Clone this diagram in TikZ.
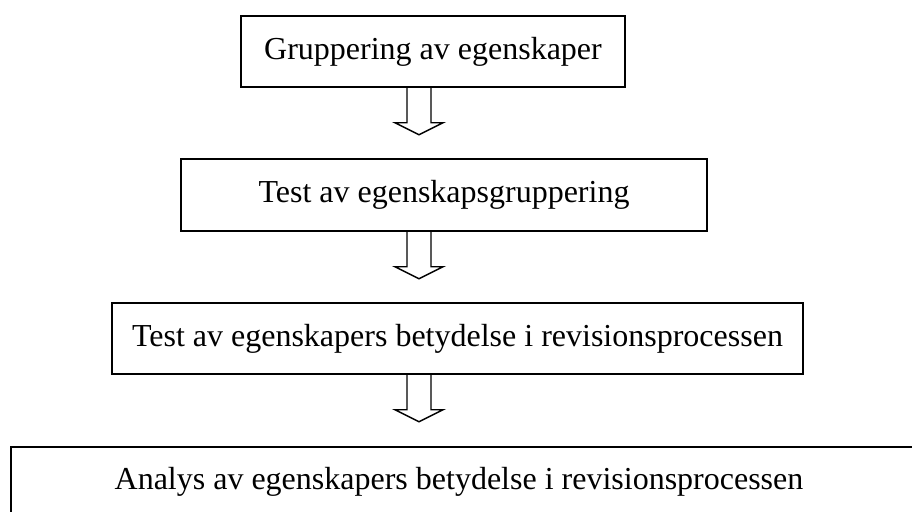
\documentclass[tikz,border=0pt]{standalone}
\usepackage{fontspec}
\setmainfont{Liberation Serif}
\begin{document}
\begin{tikzpicture}[x=0.75pt,y=-0.75pt,
  box/.style={draw, line width=1.1pt, inner sep=0pt, font=\fontsize{24}{28}\selectfont},
  lbl/.style={inner sep=0pt, font=\fontsize{24}{28}\selectfont},
  blockarrow/.pic={\draw[line width=1.1pt, line join=miter]
     (-12,0) -- (-12,35) -- (-24,35) -- (0,47) -- (24,35) -- (12,35) -- (12,0);}
]
\useasboundingbox (0,0) rectangle (912,511);
\clip (0,0) rectangle (912,511);
\node[box, minimum width=288pt, minimum height=53.25pt] (b1) at (433,51.5) {Gruppering av egenskaper};
\node[box, minimum width=394.5pt, minimum height=54pt] (b2) at (444,195) {Test av egenskapsgruppering};
\node[box, minimum width=518.25pt, minimum height=53.25pt] (b3) at (457.5,338.5) {Test av egenskapers betydelse i revisionsprocessen};
\node[box, minimum width=681.75pt, minimum height=51.75pt] (b4) at (465.5,481.5) {};
\node[lbl] (t4) at (459,481.5) {Analys av egenskapers betydelse i revisionsprocessen};
\coordinate (ax) at (419,0);
\coordinate (a1) at (b1.south -| ax);
\coordinate (a2) at (b2.south -| ax);
\coordinate (a3) at (b3.south -| ax);
\pic at (a1) {blockarrow};
\pic at (a2) {blockarrow};
\pic at (a3) {blockarrow};
\end{tikzpicture}
\end{document}
